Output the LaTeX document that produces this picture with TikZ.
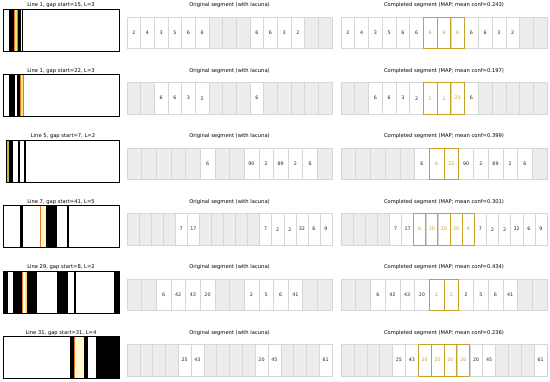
\documentclass[tikz,border=0pt]{standalone}
\usepackage{fontspec}
\setmainfont{DejaVu Sans}
\definecolor{goldc}{RGB}{200,162,40}
\definecolor{cellgray}{RGB}{236,236,236}
\definecolor{cellline}{RGB}{215,215,215}
\definecolor{txt}{RGB}{40,40,40}
\definecolor{hlyel}{RGB}{250,232,110}
\definecolor{hllight}{RGB}{255,246,205}
\definecolor{hlolive}{RGB}{200,185,60}
\definecolor{hlorg}{RGB}{230,120,40}
\newcommand\segrow[5]{%
  \foreach \v/\t [count=\k] in {#5}{\xdef\ncells{\k}}%
  \pgfmathsetmacro\cw{#3/\ncells}%
  \foreach \v/\t [count=\k] in {#5}{%
    \node[cell\t, minimum width=\cw pt] (#1-\k) at ({#2+(\k-0.5)*\cw},{#4+15.75}) {\v};}%
  \foreach \v/\t [count=\k] in {#5}{%
    \path[edge\t] (#1-\k.north west) rectangle (#1-\k.south east);}%
}
\begin{document}
\begin{tikzpicture}[x=1pt,y=-1pt,
  title/.style={font=\fontsize{5.2}{6}\selectfont, text=black, inner sep=0},
  cellbase/.style={draw=cellline, line width=0.5pt, minimum height=31.5pt, inner sep=0, outer sep=0, font=\fontsize{4.8}{5.5}\selectfont},
  cellw/.style={cellbase, fill=white, text=txt},
  cellg/.style={cellbase, fill=cellgray},
  celly/.style={cellbase, fill=white, text=goldc},
  edgew/.style={}, edgeg/.style={},
  edgey/.style={draw=goldc, line width=0.9pt},
  imgbox/.style={draw=black, line width=0.7pt},
  ink/.style={fill=black},
  hl/.style={fill=hlyel, draw=hlorg, line width=0.4pt},
  hlw/.style={fill=hllight, draw=hlorg, line width=0.5pt},
  hlo/.style={fill=hlolive, draw=none}]
\useasboundingbox (0,0) rectangle (550,382);
\fill[white] (0,0) rectangle (550,382);

% ---------- Row 1 ----------
\node[title] (t1) at (61,5.5) {Line 1, gap start=15, L=3};
\fill[ink] (9,9) rectangle (23.3,51);
\fill[white] (20.7,9) rectangle (21.7,51);
\path[hl] (14.3,9) rectangle (17,51);
\draw[imgbox] (3.3,9) rectangle (119,51);
\node[title] (o1) at (229.5,5.5) {Original segment (with lacuna)};
\node[title] (c1) at (444,5.5) {Completed segment (MAP; mean conf=0.243)};
\segrow{a1}{127}{205}{17}{2/w,4/w,3/w,5/w,6/w,6/w,{}/g,{}/g,{}/g,6/w,6/w,3/w,2/w,{}/g,{}/g}
\segrow{b1}{341}{206}{17}{2/w,4/w,3/w,5/w,6/w,6/w,6/y,6/y,6/y,6/w,6/w,3/w,2/w,{}/g,{}/g}

% ---------- Row 2 ----------
\node[title] (t2) at (61,71) {Line 1, gap start=22, L=3};
\fill[ink] (9,74.5) rectangle (15,116.5);
\fill[ink] (16.7,74.5) rectangle (20,116.5);
\path[hl] (20,74.5) rectangle (23.3,116.5);
\draw[imgbox] (3.3,74.5) rectangle (119,116.5);
\node[title] (o2) at (229.5,71) {Original segment (with lacuna)};
\node[title] (c2) at (444,71) {Completed segment (MAP; mean conf=0.197)};
\segrow{a2}{127}{205}{82.5}{{}/g,{}/g,6/w,6/w,3/w,2/w,{}/g,{}/g,{}/g,6/w,{}/g,{}/g,{}/g,{}/g,{}/g}
\segrow{b2}{341}{206}{82.5}{{}/g,{}/g,6/w,6/w,3/w,2/w,2/y,2/y,20/y,6/w,{}/g,{}/g,{}/g,{}/g,{}/g}

% ---------- Row 3 ----------
\node[title] (t3) at (63,136.5) {Line 5, gap start=7, L=2};
\path[hlo] (6.7,140) rectangle (9.3,182);
\fill[ink] (9.3,140) rectangle (12.7,182);
\fill[ink] (18.3,140) rectangle (19.7,182);
\fill[ink] (24.3,140) rectangle (26.3,182);
\draw[imgbox] (6.7,140) rectangle (119,182);
\node[title] (o3) at (229.5,136.5) {Original segment (with lacuna)};
\node[title] (c3) at (444,136.5) {Completed segment (MAP; mean conf=0.399)};
\segrow{a3}{127}{205}{148}{{}/g,{}/g,{}/g,{}/g,{}/g,6/w,{}/g,{}/g,90/w,2/w,89/w,2/w,6/w,{}/g}
\segrow{b3}{341}{206}{148}{{}/g,{}/g,{}/g,{}/g,{}/g,6/w,6/y,22/y,90/w,2/w,89/w,2/w,6/w,{}/g}

% ---------- Row 4 ----------
\node[title] (t4) at (61,202) {Line 7, gap start=41, L=5};
\fill[ink] (20,205.5) rectangle (22.7,247.5);
\path[hlw] (40,205.5) rectangle (46,247.5);
\fill[ink] (46,205.5) rectangle (57.3,247.5);
\fill[ink] (66.7,205.5) rectangle (69.3,247.5);
\draw[imgbox] (3.3,205.5) rectangle (119,247.5);
\node[title] (o4) at (229.5,202) {Original segment (with lacuna)};
\node[title] (c4) at (444,202) {Completed segment (MAP; mean conf=0.301)};
\segrow{a4}{127}{205}{213.5}{{}/g,{}/g,{}/g,{}/g,7/w,17/w,{}/g,{}/g,{}/g,{}/g,{}/g,7/w,2/w,2/w,32/w,6/w,9/w}
\segrow{b4}{341}{206}{213.5}{{}/g,{}/g,{}/g,{}/g,7/w,17/w,6/y,20/y,20/y,20/y,4/y,7/w,2/w,2/w,32/w,6/w,9/w}

% ---------- Row 5 ----------
\node[title] (t5) at (61,267.5) {Line 29, gap start=8, L=2};
\fill[ink] (3.3,271) rectangle (8.3,313);
\fill[ink] (12.7,271) rectangle (21.7,313);
\path[hl] (21.7,271) rectangle (26.7,313);
\fill[white] (23.4,271) rectangle (25,313);
\fill[ink] (26.7,271) rectangle (36.7,313);
\fill[ink] (57.3,271) rectangle (68.3,313);
\fill[ink] (74,271) rectangle (75.7,313);
\fill[ink] (114,271) rectangle (119,313);
\draw[imgbox] (3.3,271) rectangle (119,313);
\node[title] (o5) at (229.5,267.5) {Original segment (with lacuna)};
\node[title] (c5) at (444,267.5) {Completed segment (MAP; mean conf=0.434)};
\segrow{a5}{127}{205}{279}{{}/g,{}/g,6/w,42/w,43/w,20/w,{}/g,{}/g,2/w,5/w,6/w,41/w,{}/g,{}/g}
\segrow{b5}{341}{206}{279}{{}/g,{}/g,6/w,42/w,43/w,20/w,2/y,2/y,2/w,5/w,6/w,41/w,{}/g,{}/g}

% ---------- Row 6 ----------
\node[title] (t6) at (61,333) {Line 31, gap start=31, L=4};
\fill[ink] (70,336.5) rectangle (74,378.5);
\path[hlw] (74,336.5) rectangle (84,378.5);
\fill[ink] (84,336.5) rectangle (88.3,378.5);
\fill[ink] (96,336.5) rectangle (119,378.5);
\draw[imgbox] (3.3,336.5) rectangle (119,378.5);
\node[title] (o6) at (229.5,333) {Original segment (with lacuna)};
\node[title] (c6) at (444,333) {Completed segment (MAP; mean conf=0.236)};
\segrow{a6}{127}{205}{344.5}{{}/g,{}/g,{}/g,{}/g,25/w,43/w,{}/g,{}/g,{}/g,{}/g,20/w,45/w,{}/g,{}/g,{}/g,61/w}
\segrow{b6}{341}{206}{344.5}{{}/g,{}/g,{}/g,{}/g,25/w,43/w,20/y,20/y,20/y,20/y,20/w,45/w,{}/g,{}/g,{}/g,61/w}
\end{tikzpicture}
\end{document}
